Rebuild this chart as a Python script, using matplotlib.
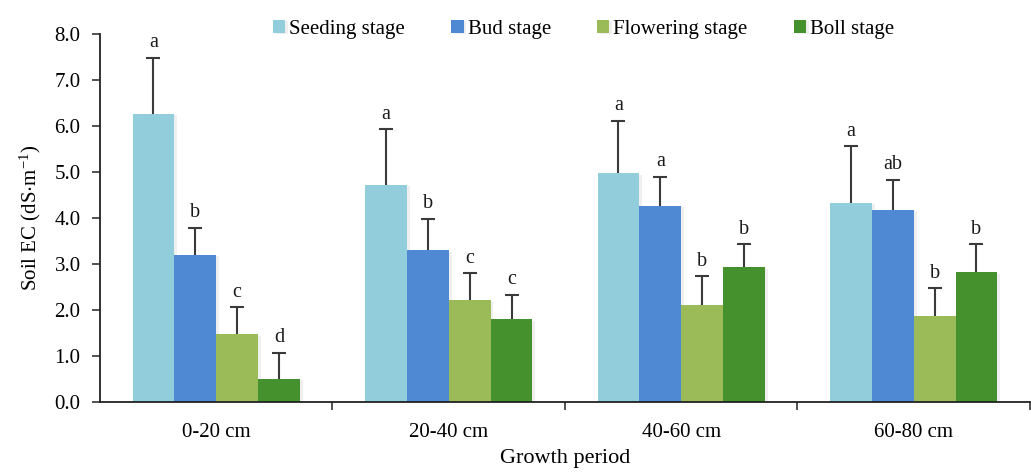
import matplotlib
matplotlib.use("Agg")
import matplotlib.pyplot as plt
import matplotlib.patheffects as pe
from matplotlib.ticker import FixedLocator
import numpy as np

plt.rcParams['font.family'] = ['Liberation Serif', 'DejaVu Serif']
plt.rcParams['mathtext.fontset'] = 'stix'

depths = ["0-20 cm", "20-40 cm", "40-60 cm", "60-80 cm"]
stages = ["Seeding stage", "Bud stage", "Flowering stage", "Boll stage"]
colors = ["#92CDDC", "#4F88D3", "#9BBB59", "#45912D"]

# mean soil EC (dS/m) per stage, one value per depth
seeding = [6.26, 4.72, 4.97, 4.33]
bud = [3.20, 3.30, 4.26, 4.18]
flowering = [1.47, 2.22, 2.12, 1.87]
boll = [0.51, 1.80, 2.93, 2.82]

# standard deviations
seeding_sd = [1.23, 1.21, 1.15, 1.23]
bud_sd = [0.59, 0.69, 0.64, 0.65]
flowering_sd = [0.59, 0.58, 0.61, 0.60]
boll_sd = [0.56, 0.53, 0.50, 0.61]

# significance letters
seeding_sig = ["a", "a", "a", "a"]
bud_sig = ["b", "b", "a", "ab"]
flowering_sig = ["c", "c", "b", "b"]
boll_sig = ["d", "c", "b", "b"]

means = [seeding, bud, flowering, boll]
sds = [seeding_sd, bud_sd, flowering_sd, boll_sd]
sigs = [seeding_sig, bud_sig, flowering_sig, boll_sig]

fig = plt.figure(figsize=(10.31, 4.73), dpi=100)
ax = fig.add_axes([0.097, 0.150, 0.902, 0.778])

x = np.arange(len(depths))
width = 0.18
offsets = (np.arange(len(stages)) - 1.5) * width

for i, stage in enumerate(stages):
    pos = x + offsets[i]
    bars = ax.bar(pos, means[i], width=width, color=colors[i], label=stage,
                  zorder=2, linewidth=0)
    for b in bars:
        b.set_path_effects([pe.SimplePatchShadow(offset=(2, -1), shadow_rgbFace='0.7', alpha=0.2),
                            pe.Normal()])
    _, caps, _ = ax.errorbar(pos, means[i], yerr=[np.zeros(len(depths)), sds[i]], fmt='none',
                             ecolor='#3a3a3a', elinewidth=1.5, capsize=5, capthick=1.5, zorder=3)
    # only the upper cap is shown
    caps[0].set_visible(False)
    for xi, m, s, t in zip(pos, means[i], sds[i], sigs[i]):
        ax.text(xi, m + s + 0.12, t, ha='center', va='bottom', fontsize=14.5, color='#1a1a1a')

ax.set_xlim(-0.5, 3.5)
ax.set_ylim(0, 8)
ax.set_yticks(np.arange(0, 8.01, 1.0))
ax.set_yticklabels([f"{v:.1f}" for v in np.arange(0, 8.01, 1.0)])
ax.set_xticks(x)
ax.set_xticklabels(depths)
ax.xaxis.set_minor_locator(FixedLocator([0.5, 1.5, 2.5, 3.5]))
ax.tick_params(axis='x', which='major', length=0, pad=15, labelsize=15)
ax.tick_params(axis='x', which='minor', length=6, width=1.2, direction='out', color='#333333')
ax.tick_params(axis='y', which='major', length=6, width=1.2, direction='out', pad=8,
               labelsize=15, color='#333333')

for side in ['top', 'right']:
    ax.spines[side].set_visible(False)
for side in ['left', 'bottom']:
    ax.spines[side].set_linewidth(1.3)
    ax.spines[side].set_color('#222222')

ax.set_ylabel(r"Soil EC (dS$\cdot$m$^{\mathregular{-1}}$)", fontsize=15, labelpad=8)
ax.set_xlabel("Growth period", fontsize=16, labelpad=5)

ax.legend(loc='upper center', bbox_to_anchor=(0.52, 1.09), ncol=4, frameon=False,
          fontsize=15, handlelength=0.6, handleheight=0.6, handletextpad=0.2,
          columnspacing=2.2)

fig.savefig("out.png", dpi=100)
